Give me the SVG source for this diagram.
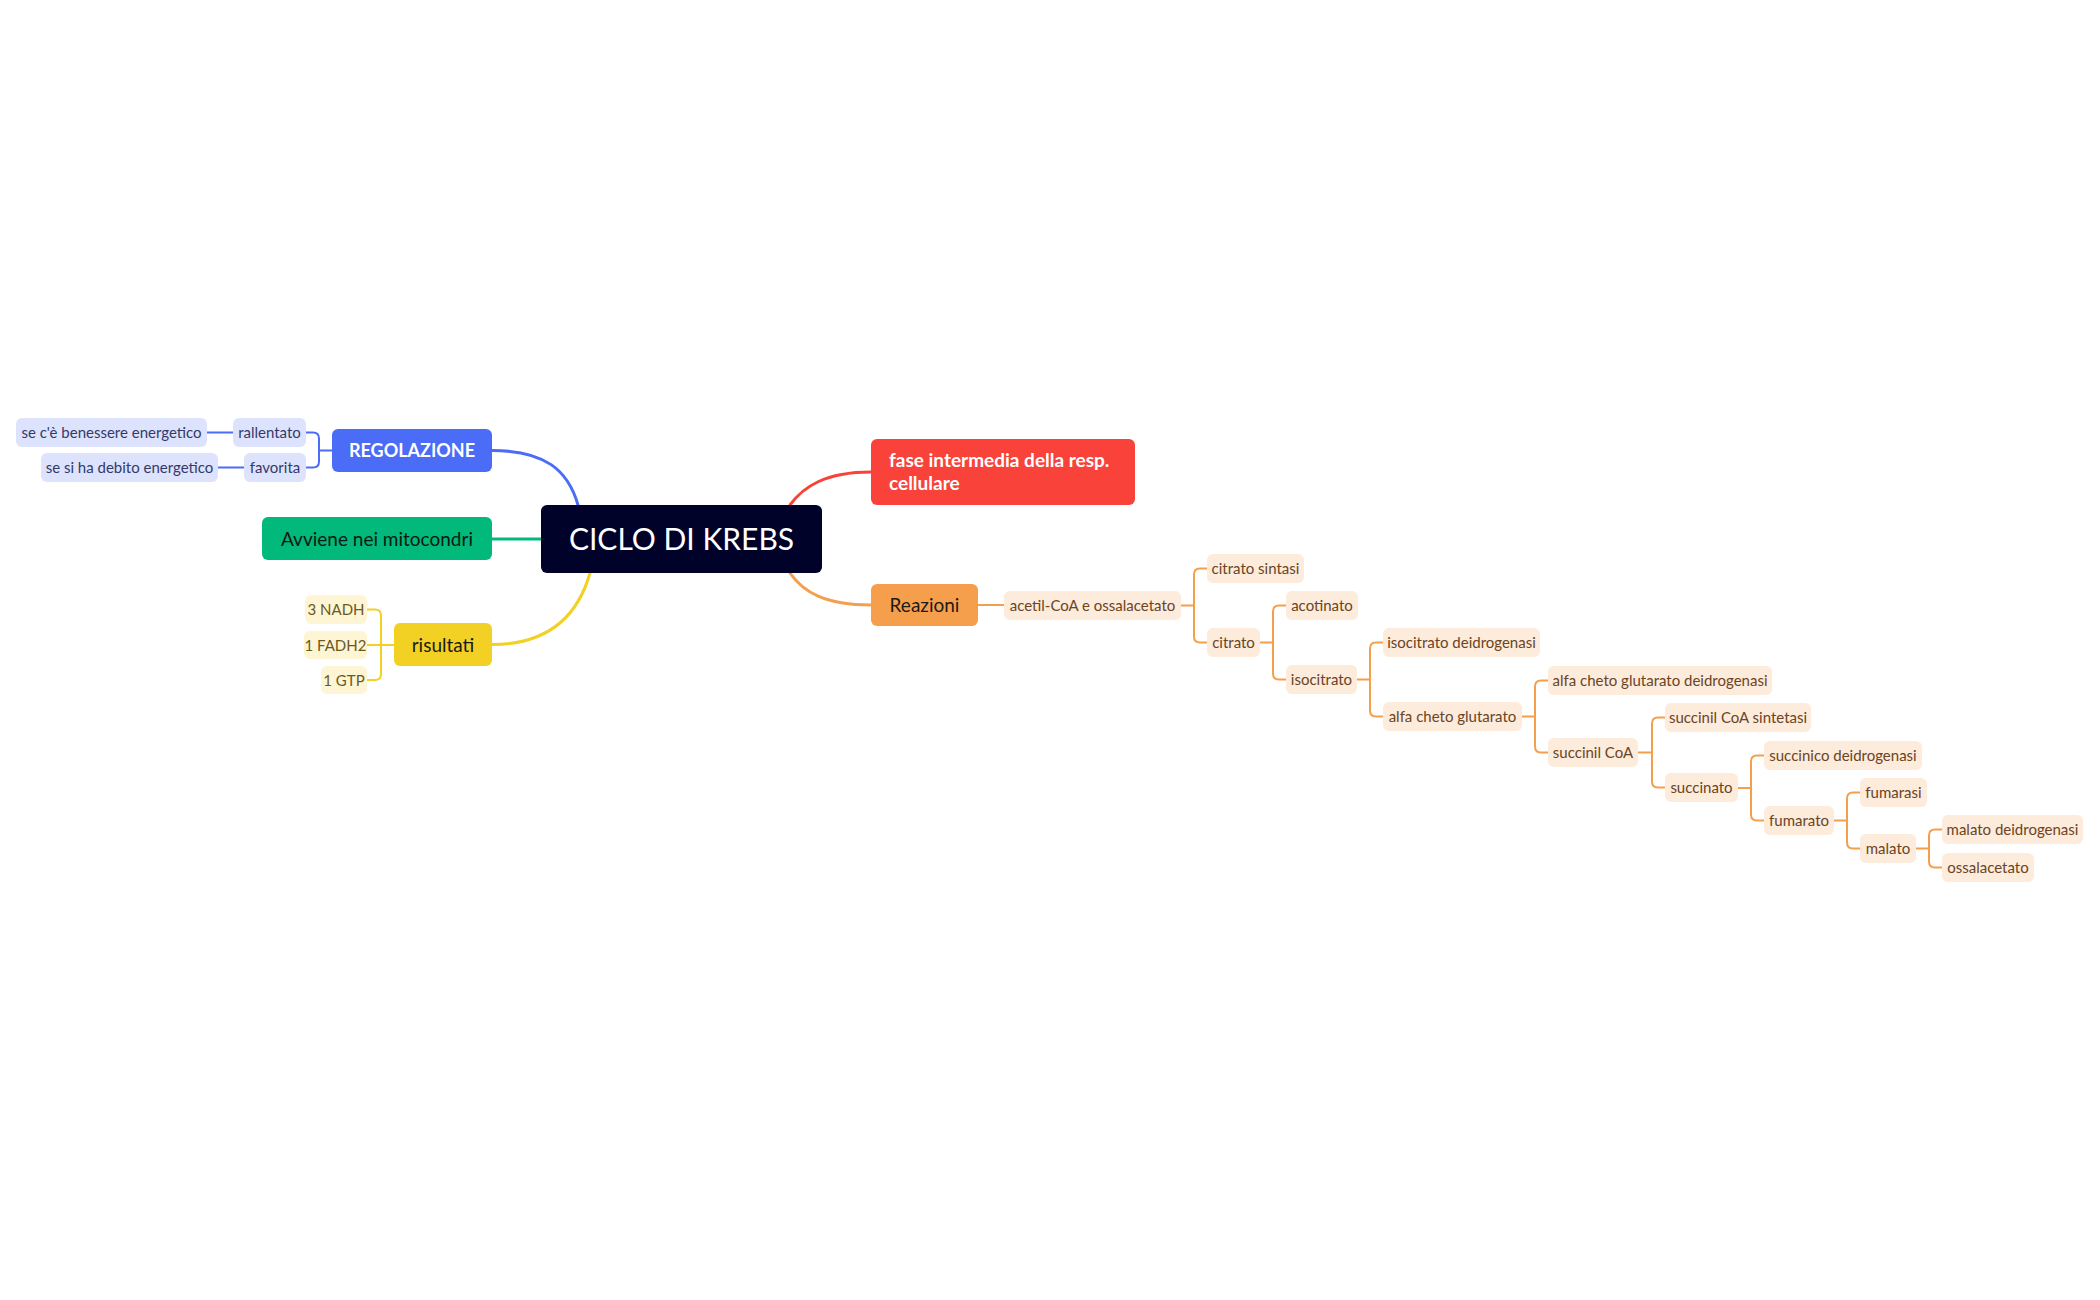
<svg xmlns="http://www.w3.org/2000/svg" width="2100" height="1300" viewBox="0 0 2100 1300">
<style>
text{font-family:Lato,"Open Sans","Liberation Sans",sans-serif}
.s{font-size:15px}
.m{font-size:19px}
.c{text-anchor:middle}
.ob{fill:#fdebdb}.ot{fill:#6b4424}
.bb{fill:#dde3fc}.bt{fill:#34396b}
.yb{fill:#fdf5d3}.yt{fill:#6b5a1e}
.lo{fill:none;stroke:#f59f4c;stroke-width:2}
.lb{fill:none;stroke:#4a6cf7;stroke-width:2}
.ly{fill:none;stroke:#f2d024;stroke-width:2}
</style>
<rect width="2100" height="1300" fill="#ffffff"/>
<g id="connectors" fill="none" stroke-linecap="round">
<path d="M492,450.5 C545,450.5 568,470 578,505" stroke="#4a6cf7" stroke-width="3"/>
<path d="M871,472 C825,472 803,487 790,505" stroke="#f9423a" stroke-width="3"/>
<path d="M492,539 H541" stroke="#00b97a" stroke-width="3"/>
<path d="M492,644.5 C550,644.5 578,615 590,573" stroke="#f2d024" stroke-width="3"/>
<path d="M871,605 C825,605 803,592 790,573" stroke="#f59f4c" stroke-width="3"/>
<path class="lb" d="M332,450.5 H319 M306,432.5 H313 Q319,432.5 319,438.5 V461.5 Q319,467.5 313,467.5 H306 M233,432.5 H207 M244,467.5 H218"/>
<path class="ly" d="M394,645 H367 M367,609.5 H375 Q381,609.5 381,615.5 V674 Q381,680 375,680 H367"/>
<path class="lo" d="M978,605 H1004"/>
<path class="lo" d="M1181,605.5 H1194 M1207,568.5 H1200 Q1194,568.5 1194,574.5 V636.5 Q1194,642.5 1200,642.5 H1207"/>
<path class="lo" d="M1260,642.5 H1273 M1286,605.5 H1279 Q1273,605.5 1273,611.5 V673.5 Q1273,679.5 1279,679.5 H1286"/>
<path class="lo" d="M1357,679.5 H1370 M1383,642.5 H1376 Q1370,642.5 1370,648.5 V710.5 Q1370,716.5 1376,716.5 H1383"/>
<path class="lo" d="M1522,716.5 H1535 M1548,680.5 H1541 Q1535,680.5 1535,686.5 V746.5 Q1535,752.5 1541,752.5 H1548"/>
<path class="lo" d="M1638,752.5 H1652 M1665,717.5 H1658 Q1652,717.5 1652,723.5 V781.5 Q1652,787.5 1658,787.5 H1665"/>
<path class="lo" d="M1738,788 H1751 M1764,755.5 H1757 Q1751,755.5 1751,761.5 V814.5 Q1751,820.5 1757,820.5 H1764"/>
<path class="lo" d="M1834,820.5 H1847 M1860,792.5 H1853 Q1847,792.5 1847,798.5 V842.5 Q1847,848.5 1853,848.5 H1860"/>
<path class="lo" d="M1916,848.5 H1929 M1942,829.5 H1935 Q1929,829.5 1929,835.5 V861.5 Q1929,867.5 1935,867.5 H1942"/>
</g>
<g id="root"><rect x="541" y="505" width="281" height="68" rx="6" fill="#000229"/><text x="681.5" y="549.5" class="c" font-size="30" fill="#ffffff">CICLO DI KREBS</text></g>
<g id="regolazione"><rect x="332" y="429" width="160" height="43" rx="6" fill="#4a6cf7"/><text x="412" y="457" class="c" font-size="18" font-weight="bold" fill="#ffffff">REGOLAZIONE</text></g>
<g id="rallentato"><rect class="bb" x="233" y="418" width="73" height="29" rx="6"/><text class="s c bt" x="269.5" y="438">rallentato</text></g>
<g id="benessere"><rect class="bb" x="16" y="418" width="191" height="29" rx="6"/><text class="s c bt" x="111.5" y="438">se c'è benessere energetico</text></g>
<g id="favorita"><rect class="bb" x="244" y="453" width="62" height="29" rx="6"/><text class="s c bt" x="275" y="473">favorita</text></g>
<g id="debito"><rect class="bb" x="41" y="453" width="177" height="29" rx="6"/><text class="s c bt" x="129.5" y="473">se si ha debito energetico</text></g>
<g id="avviene"><rect x="262" y="517" width="230" height="43" rx="6" fill="#00b97a"/><text x="377" y="545.5" class="c m" fill="#0b1a12">Avviene nei mitocondri</text></g>
<g id="risultati"><rect x="394" y="623" width="98" height="43" rx="6" fill="#f2d024"/><text x="443" y="651.5" class="c m" fill="#1a1a1a">risultati</text></g>
<g id="nadh"><rect class="yb" x="305" y="595" width="62" height="29" rx="6"/><text class="s c yt" x="336" y="615">3 NADH</text></g>
<g id="fadh2"><rect class="yb" x="304" y="631" width="63" height="28" rx="6"/><text class="s c yt" x="335.5" y="650.5">1 FADH2</text></g>
<g id="gtp"><rect class="yb" x="321" y="666" width="46" height="28" rx="6"/><text class="s c yt" x="344" y="685.5">1 GTP</text></g>
<g id="fase"><rect x="871" y="439" width="264" height="66" rx="6" fill="#f9423a"/><text x="889" y="466.5" class="m" font-weight="bold" fill="#ffffff">fase intermedia della resp.</text><text x="889" y="489.5" class="m" font-weight="bold" fill="#ffffff">cellulare</text></g>
<g id="reazioni"><rect x="871" y="584" width="107" height="42" rx="6" fill="#f59f4c"/><text x="924.5" y="611.5" class="c m" fill="#1a1a1a">Reazioni</text></g>
<g id="acetil"><rect class="ob" x="1004" y="591" width="177" height="29" rx="6"/><text class="s c ot" x="1092.5" y="611">acetil-CoA e ossalacetato</text></g>
<g id="citrato-sintasi"><rect class="ob" x="1207" y="554" width="97" height="29" rx="6"/><text class="s c ot" x="1255.5" y="574">citrato sintasi</text></g>
<g id="citrato"><rect class="ob" x="1207" y="628" width="53" height="29" rx="6"/><text class="s c ot" x="1233.5" y="648">citrato</text></g>
<g id="acotinato"><rect class="ob" x="1286" y="591" width="72" height="29" rx="6"/><text class="s c ot" x="1322" y="611">acotinato</text></g>
<g id="isocitrato"><rect class="ob" x="1286" y="665" width="71" height="29" rx="6"/><text class="s c ot" x="1321.5" y="685">isocitrato</text></g>
<g id="isocitrato-deidrogenasi"><rect class="ob" x="1383" y="628" width="157" height="29" rx="6"/><text class="s c ot" x="1461.5" y="648">isocitrato deidrogenasi</text></g>
<g id="alfa-cheto-glutarato"><rect class="ob" x="1383" y="702" width="139" height="29" rx="6"/><text class="s c ot" x="1452.5" y="722">alfa cheto glutarato</text></g>
<g id="akg-deidrogenasi"><rect class="ob" x="1548" y="666" width="224" height="29" rx="6"/><text class="s c ot" x="1660" y="686">alfa cheto glutarato deidrogenasi</text></g>
<g id="succinil-coa"><rect class="ob" x="1548" y="738" width="90" height="29" rx="6"/><text class="s c ot" x="1593" y="758">succinil CoA</text></g>
<g id="succinil-coa-sintetasi"><rect class="ob" x="1665" y="703" width="146" height="29" rx="6"/><text class="s c ot" x="1738" y="723">succinil CoA sintetasi</text></g>
<g id="succinato"><rect class="ob" x="1665" y="773" width="73" height="29" rx="6"/><text class="s c ot" x="1701.5" y="793">succinato</text></g>
<g id="succinico-deidrogenasi"><rect class="ob" x="1764" y="741" width="158" height="29" rx="6"/><text class="s c ot" x="1843" y="761">succinico deidrogenasi</text></g>
<g id="fumarato"><rect class="ob" x="1764" y="806" width="70" height="29" rx="6"/><text class="s c ot" x="1799" y="826">fumarato</text></g>
<g id="fumarasi"><rect class="ob" x="1860" y="778" width="67" height="29" rx="6"/><text class="s c ot" x="1893.5" y="798">fumarasi</text></g>
<g id="malato"><rect class="ob" x="1860" y="834" width="56" height="29" rx="6"/><text class="s c ot" x="1888" y="854">malato</text></g>
<g id="malato-deidrogenasi"><rect class="ob" x="1942" y="815" width="141" height="29" rx="6"/><text class="s c ot" x="2012.5" y="835">malato deidrogenasi</text></g>
<g id="ossalacetato"><rect class="ob" x="1942" y="853" width="92" height="29" rx="6"/><text class="s c ot" x="1988" y="873">ossalacetato</text></g>
</svg>
